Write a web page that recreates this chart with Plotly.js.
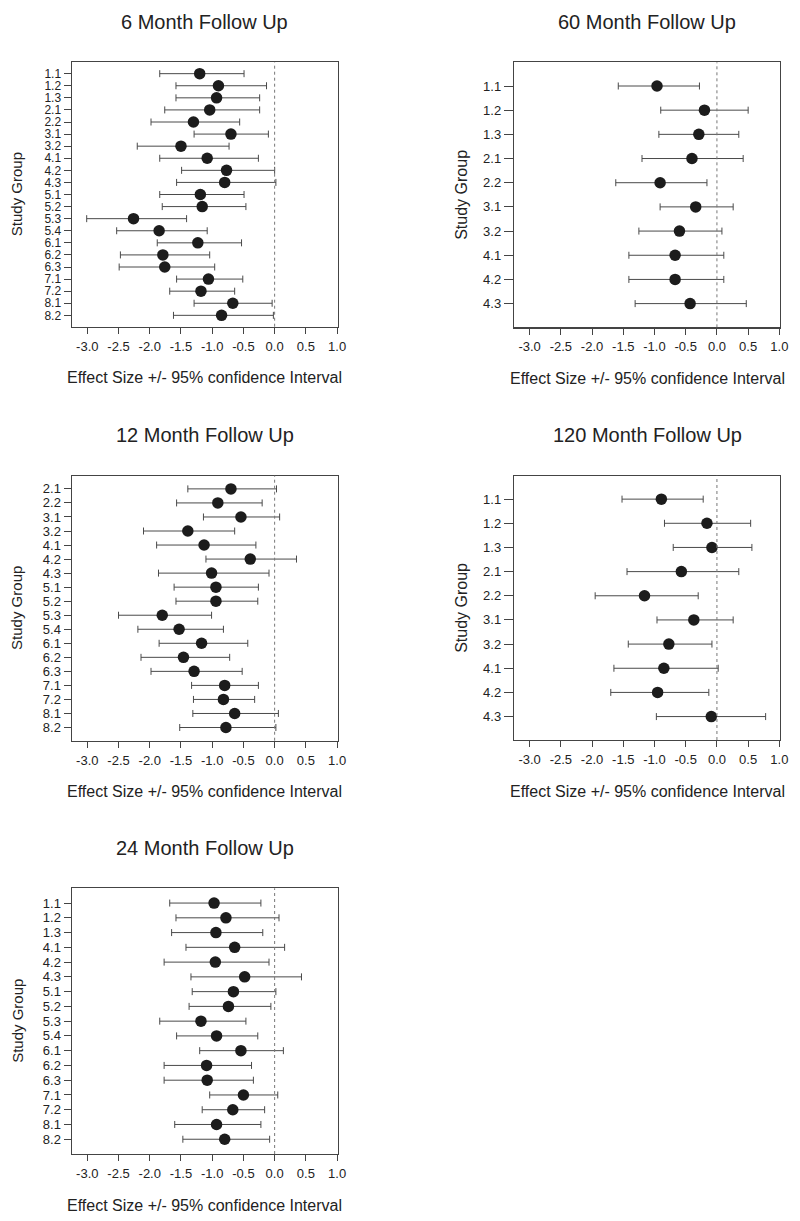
<!DOCTYPE html>
<html>
<head>
<meta charset="utf-8">
<script src="https://cdn.plot.ly/plotly-3.0.1.min.js"></script>
<style>
html,body{margin:0;padding:0;background:#ffffff;}
#chart{width:800px;height:1221px;}
</style>
</head>
<body>
<div id="chart"></div>
<script>
// ---------- tick labels ----------
const xTickVals = [-3, -2.5, -2, -1.5, -1, -0.5, 0, 0.5, 1];
const xTickText = ["-3.0", "-2.5", "-2.0", "-1.5", "-1.0", "-0.5", "0.0", "0.5", "1.0"];

// ---------- 6 Month Follow Up ----------
const groups6 = ["1.1","1.2","1.3","2.1","2.2","3.1","3.2","4.1","4.2","4.3","5.1","5.2","5.3","5.4","6.1","6.2","6.3","7.1","7.2","8.1","8.2"];
const est6 = [-1.20,-0.90,-0.93,-1.04,-1.30,-0.70,-1.50,-1.08,-0.77,-0.80,-1.19,-1.16,-2.26,-1.85,-1.23,-1.79,-1.76,-1.06,-1.18,-0.67,-0.85];
const lo6  = [-1.84,-1.58,-1.58,-1.76,-1.98,-1.29,-2.20,-1.84,-1.49,-1.57,-1.84,-1.80,-3.01,-2.53,-1.88,-2.47,-2.49,-1.57,-1.68,-1.29,-1.62];
const hi6  = [-0.49,-0.13,-0.24,-0.24,-0.56,-0.10,-0.73,-0.26, 0.00, 0.02,-0.49,-0.46,-1.41,-1.08,-0.53,-1.04,-0.96,-0.51,-0.64,-0.04,-0.02];

// ---------- 60 Month Follow Up ----------
const groups60 = ["1.1","1.2","1.3","2.1","2.2","3.1","3.2","4.1","4.2","4.3"];
const est60 = [-0.96,-0.20,-0.29,-0.40,-0.91,-0.34,-0.60,-0.67,-0.67,-0.43];
const lo60  = [-1.58,-0.90,-0.93,-1.20,-1.62,-0.91,-1.25,-1.41,-1.41,-1.31];
const hi60  = [-0.28, 0.50, 0.35, 0.42,-0.16, 0.26, 0.08, 0.11, 0.11, 0.47];

// ---------- 12 Month Follow Up ----------
const groups12 = ["2.1","2.2","3.1","3.2","4.1","4.2","4.3","5.1","5.2","5.3","5.4","6.1","6.2","6.3","7.1","7.2","8.1","8.2"];
const est12 = [-0.70,-0.91,-0.54,-1.39,-1.13,-0.39,-1.01,-0.94,-0.94,-1.80,-1.53,-1.17,-1.46,-1.29,-0.80,-0.82,-0.64,-0.78];
const lo12  = [-1.39,-1.57,-1.14,-2.10,-1.89,-1.10,-1.86,-1.61,-1.58,-2.50,-2.19,-1.85,-2.14,-1.98,-1.33,-1.30,-1.31,-1.52];
const hi12  = [ 0.03,-0.20, 0.08,-0.64,-0.30, 0.35,-0.09,-0.26,-0.27,-1.01,-0.82,-0.43,-0.72,-0.52,-0.26,-0.32, 0.06, 0.02];

// ---------- 120 Month Follow Up ----------
const groups120 = ["1.1","1.2","1.3","2.1","2.2","3.1","3.2","4.1","4.2","4.3"];
const est120 = [-0.89,-0.16,-0.08,-0.57,-1.16,-0.37,-0.77,-0.85,-0.95,-0.09];
const lo120  = [-1.52,-0.84,-0.70,-1.44,-1.95,-0.96,-1.42,-1.65,-1.70,-0.97];
const hi120  = [-0.22, 0.54, 0.56, 0.35,-0.30, 0.26,-0.08, 0.02,-0.13, 0.78];

// ---------- 24 Month Follow Up ----------
const groups24 = ["1.1","1.2","1.3","4.1","4.2","4.3","5.1","5.2","5.3","5.4","6.1","6.2","6.3","7.1","7.2","8.1","8.2"];
const est24 = [-0.97,-0.78,-0.94,-0.64,-0.95,-0.48,-0.66,-0.74,-1.18,-0.93,-0.54,-1.09,-1.08,-0.50,-0.67,-0.93,-0.80];
const lo24  = [-1.68,-1.58,-1.65,-1.42,-1.77,-1.34,-1.32,-1.37,-1.84,-1.57,-1.20,-1.77,-1.77,-1.04,-1.16,-1.60,-1.47];
const hi24  = [-0.22, 0.07,-0.19, 0.16,-0.09, 0.43, 0.02,-0.06,-0.46,-0.27, 0.14,-0.37,-0.34, 0.05,-0.16,-0.22,-0.08];

const titleText = "Effect Size +/- 95% confidence Interval";
const yTitleText = "Study Group";

// ---------- layout geometry (pixels) ----------
const W = 800, H = 1221;
const FONT = "Liberation Sans, Arial, Helvetica, sans-serif";
const panels = [
  {title:"6 Month Follow Up",   groups:groups6,   est:est6,   lo:lo6,   hi:hi6,   box:[71.7, 62.3, 337.7, 326.7], pad:0.94, right:false, yfs:12},
  {title:"60 Month Follow Up",  groups:groups60,  est:est60,  lo:lo60,  hi:hi60,  box:[514, 62.3, 780, 327.3],    pad:0.98, right:true,  yfs:13},
  {title:"12 Month Follow Up",  groups:groups12,  est:est12,  lo:lo12,  hi:hi12,  box:[71.7, 475.7, 337.7, 740.7], pad:0.94, right:false, yfs:13},
  {title:"120 Month Follow Up", groups:groups120, est:est120, lo:lo120, hi:hi120, box:[514, 475.7, 780, 740],      pad:0.97, right:true,  yfs:13},
  {title:"24 Month Follow Up",  groups:groups24,  est:est24,  lo:lo24,  hi:hi24,  box:[71.7, 888.3, 337.7, 1154],  pad:1.0,  right:false, yfs:13}
];

const px2x = p => p / W;
const px2y = p => 1 - p / H;

const traces = [];
const layout = {
  width: W, height: H,
  margin: {l:0, r:0, t:0, b:0},
  paper_bgcolor: "#ffffff",
  plot_bgcolor: "#ffffff",
  showlegend: false,
  font: {family: FONT, color: "#222222", size: 13},
  annotations: [],
  shapes: []
};

panels.forEach((p, i) => {
  const k = i + 1;
  const xa = "x" + (k === 1 ? "" : k), ya = "y" + (k === 1 ? "" : k);
  const xKey = "xaxis" + (k === 1 ? "" : k), yKey = "yaxis" + (k === 1 ? "" : k);
  const n = p.groups.length;
  const idx = p.groups.map((g, j) => j);
  const [l, t, r, b] = p.box;

  traces.push({
    type: "scatter", mode: "markers",
    x: p.est, y: idx, xaxis: xa, yaxis: ya,
    marker: {size: 11.5, color: "#1c1c1c", line: {width: 0}},
    error_x: {
      type: "data", symmetric: false,
      array: p.hi.map((h, j) => h - p.est[j]),
      arrayminus: p.lo.map((v, j) => p.est[j] - v),
      color: "#4a4a4a", thickness: 1, width: 3.5
    },
    text: p.groups,
    hoverinfo: "x+text"
  });

  layout[xKey] = {
    domain: [px2x(l), px2x(r)],
    anchor: ya,
    range: [-3.25, 1.01],
    tickvals: xTickVals, ticktext: xTickText,
    ticks: "outside", ticklen: 6, tickwidth: 1, tickcolor: "#444444",
    showline: true, mirror: true, linecolor: "#444444", linewidth: 1.2,
    showgrid: false, zeroline: false,
    tickfont: {size: 13, color: "#222222", family: FONT},
    ticklabelstandoff: 1,
    fixedrange: true
  };
  layout[yKey] = {
    domain: [px2y(b), px2y(t)],
    anchor: xa,
    range: [n - 1 + p.pad, -p.pad],
    tickvals: idx, ticktext: p.groups,
    ticks: "outside", ticklen: p.right ? 9 : 7, tickwidth: 1, tickcolor: "#444444",
    showline: true, mirror: true, linecolor: "#444444", linewidth: 1.2,
    showgrid: false, zeroline: false,
    tickfont: {size: p.yfs, color: "#222222", family: FONT},
    fixedrange: true
  };

  // dotted reference line at zero
  layout.shapes.push({
    type: "line", xref: xa, yref: ya + " domain",
    x0: 0, x1: 0, y0: 0, y1: 1,
    line: {color: "#777777", width: 1, dash: "dot"}
  });

  // panel title
  layout.annotations.push({
    text: p.title, xref: "paper", yref: "paper",
    x: px2x((l + r) / 2), y: px2y(t - 40.6),
    xanchor: "center", yanchor: "middle", showarrow: false,
    font: {size: 20, family: FONT, color: "#222222"}
  });
  // x axis title
  layout.annotations.push({
    text: titleText, xref: "paper", yref: "paper",
    x: px2x((l + r) / 2), y: px2y(b + 51),
    xanchor: "center", yanchor: "middle", showarrow: false,
    font: {size: 16, family: FONT, color: "#222222"}
  });
  // y axis title
  layout.annotations.push({
    text: yTitleText, xref: "paper", yref: "paper",
    x: px2x(l - (p.right ? 52 : 55)), y: px2y((t + b) / 2),
    xanchor: "center", yanchor: "middle", showarrow: false, textangle: -90,
    font: {size: p.right ? 16 : 15, family: FONT, color: "#222222"}
  });
});

Plotly.newPlot("chart", traces, layout, {displayModeBar: false, staticPlot: true});
</script>
</body>
</html>
